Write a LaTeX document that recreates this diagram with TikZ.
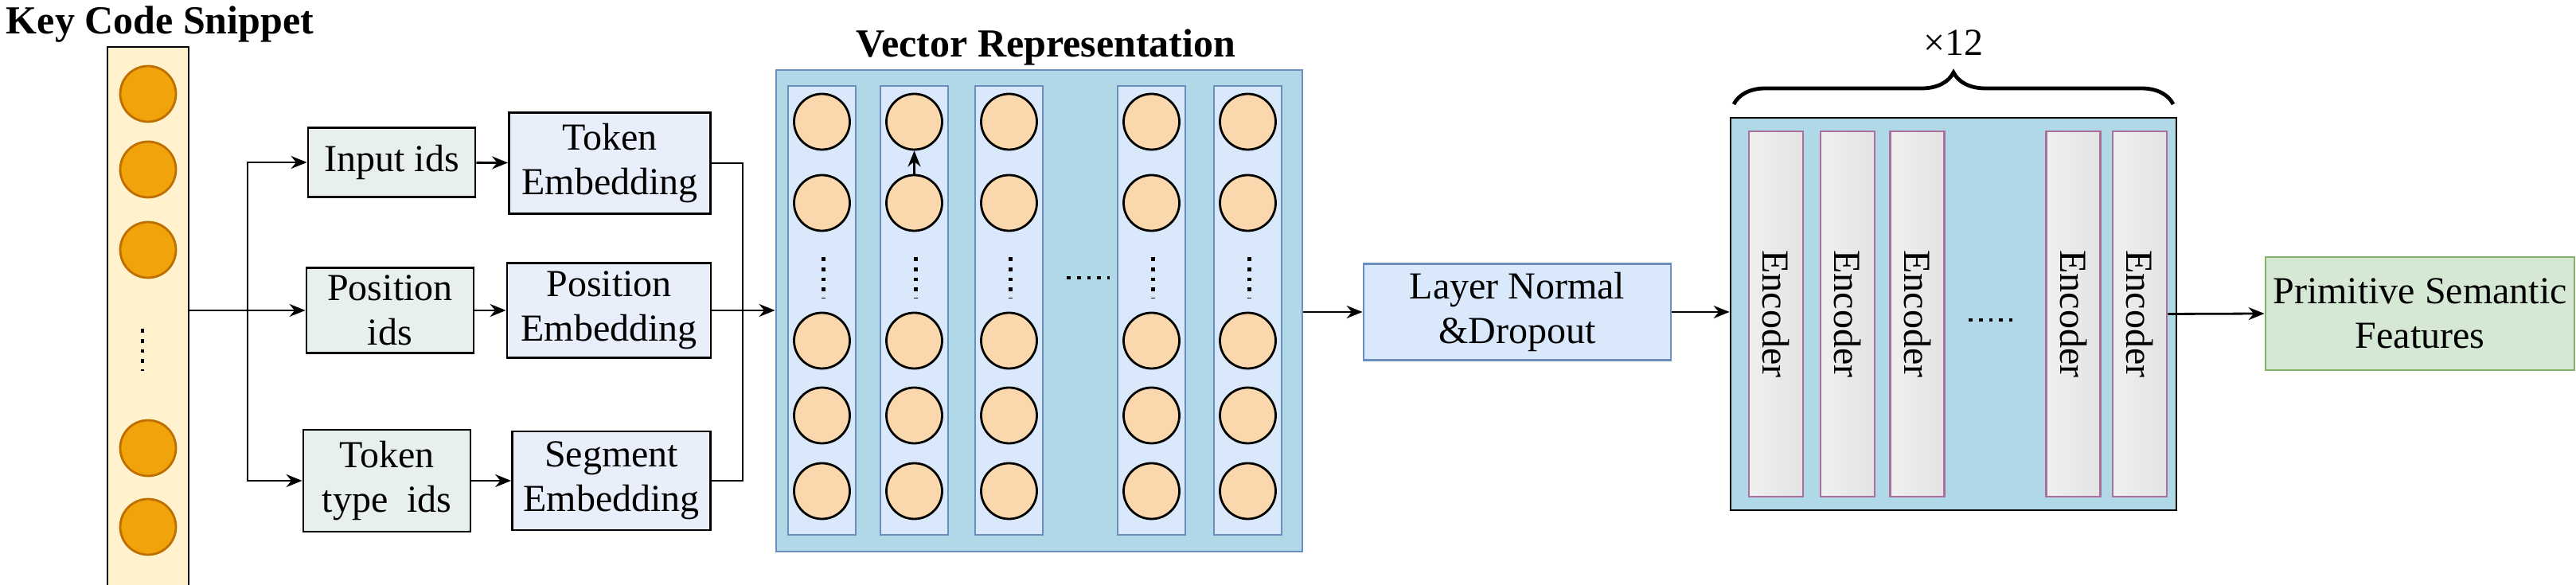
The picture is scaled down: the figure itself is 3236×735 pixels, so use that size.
\documentclass[tikz,border=0pt]{standalone}
\usepackage{fontspec}
\setmainfont{Liberation Serif}
\usetikzlibrary{arrows.meta,decorations.pathreplacing}
\definecolor{keyfill}{HTML}{FFF2CC}
\definecolor{keydot}{HTML}{F0A30A}
\definecolor{keydotb}{HTML}{BD7000}
\definecolor{idfill}{HTML}{E7F0EE}
\definecolor{embfill}{HTML}{E8EEFA}
\definecolor{vbfill}{HTML}{B0D8E6}
\definecolor{bluel}{HTML}{DAE8FC}
\definecolor{blueb}{HTML}{6C8EBF}
\definecolor{peach}{HTML}{FAD7AC}
\definecolor{encb}{HTML}{A8709A}
\definecolor{grnf}{HTML}{D5E8D4}
\definecolor{grnb}{HTML}{82B366}
\tikzset{
  every node/.style={font=\fontsize{12}{14}\selectfont, inner sep=0pt, align=center},
  lw/.style={line width=0.7pt},
  arr/.style={lw,-{Stealth[length=5pt,width=4pt]}},
  title/.style={font=\fontsize{12.5}{14}\bfseries\selectfont},
  idbox/.style={draw=black,lw,fill=idfill},
  embbox/.style={draw=black,lw,fill=embfill},
  keydotst/.style={circle,draw=keydotb,lw,fill=keydot,minimum size=17.5pt},
  vdot/.style={circle,draw=black,lw,fill=peach,minimum size=17.5pt},
  col/.style={draw=blueb,lw,fill=bluel,minimum width=21.25pt,minimum height=141pt},
  enc/.style={draw=encb,lw,left color=gray!12,right color=gray!22,minimum width=17pt,minimum height=114.75pt},
  dots/.style={dotted,line width=1.2pt},
}
\begin{document}
\begin{tikzpicture}[x=0.25pt,y=-0.25pt]
\useasboundingbox (0,0) rectangle (3236,735);
% Key code snippet
\node[title] (ktitle) at (201,31) {Key Code Snippet};
\node[draw=black,lw,fill=keyfill,minimum width=25.5pt,minimum height=172pt] (kc) at (186,403) {};
\foreach \y [count=\i] in {118,213,314,563,662} \node[keydotst] (k\i) at (186,\y) {};
\draw[dots] (179,413) -- (179,466);
% ids
\node[idbox,minimum width=52.5pt,minimum height=21.75pt] (iid) at (492,204) {Input ids};
\node[idbox,minimum width=52.5pt,minimum height=26.75pt] (pid) at (490,390) {Position\\ids};
\node[idbox,minimum width=52.5pt,minimum height=32pt] (tid) at (486,604) {Token\\type\ \ ids};
\node[embbox,minimum width=63.25pt,minimum height=31.75pt] (temb) at (766,205) {Token\\Embedding};
\node[embbox,minimum width=64pt,minimum height=29.75pt] (pemb) at (765,390) {Position\\Embedding};
\node[embbox,minimum width=62.25pt,minimum height=31pt] (semb) at (768,604) {Segment\\Embedding};
\coordinate (br) at (311,390);
\draw[arr] (kc.east |- pid.west) -- (pid.west);
\draw[arr] (br) |- (iid.west);
\draw[arr] (br) |- (tid.west);
\draw[arr] (iid) -- (temb);
\draw[arr] (pid) -- (pemb);
\draw[arr] (tid) -- (semb);
% vector representation
\node[title] (vtitle) at (1314,59) {Vector Representation};
\node[draw=blueb,lw,fill=vbfill,minimum width=165.25pt,minimum height=151.25pt] (vb) at (1305.5,390.5) {};
\coordinate (jt) at (933,390);
\draw[lw] (temb.east) -| (jt);
\draw[lw] (semb.east) -| (jt);
\draw[arr] (pemb.east) -- (vb.west |- pemb.east);
\foreach \x [count=\j] in {1032.5,1148.5,1267.5,1446.5,1567.5} {
  \node[col] (c\j) at (\x,390) {};
  \foreach \y [count=\i] in {153,255,428,522,617} \node[vdot] (v\j\i) at (\x,\y) {};
  \draw[dots] (\x+2,323) -- (\x+2,375);
}
\draw[arr] (v22.north) -- (v21.south);
\draw[dots] (1340,349) -- (1394,349);
% layer normal
\node[draw=blueb,lw,fill=bluel,minimum width=96.5pt,minimum height=30.25pt] (ln) at (1906,392) {Layer Normal\\\&Dropout};
\draw[arr] (vb.east |- ln.west) -- (ln.west);
% encoders
\node[draw=black,lw,fill=vbfill,minimum width=140pt,minimum height=123.25pt] (eb) at (2454,394.5) {};
\draw[arr] (ln.east) -- (eb.west |- ln.east);
\foreach \x [count=\i] in {2231,2321,2408.5,2604.5,2688}
  \node[enc] (e\i) at (\x,394.5) {\rotatebox{-90}{Encoder}};
\draw[dots] (2473,402) -- (2528,402);
\draw[lw,line width=1.2pt,decorate,decoration={brace,amplitude=10pt}] (2178,131) -- (2730,131);
\node (x12) at (2454,54) {×12};
\node[draw=grnb,lw,fill=grnf,minimum width=97pt,minimum height=35.5pt] (prim) at (3040,394) {Primitive Semantic\\Features};
\draw[arr] (e5.east) -- (prim.west);
\end{tikzpicture}
\end{document}
